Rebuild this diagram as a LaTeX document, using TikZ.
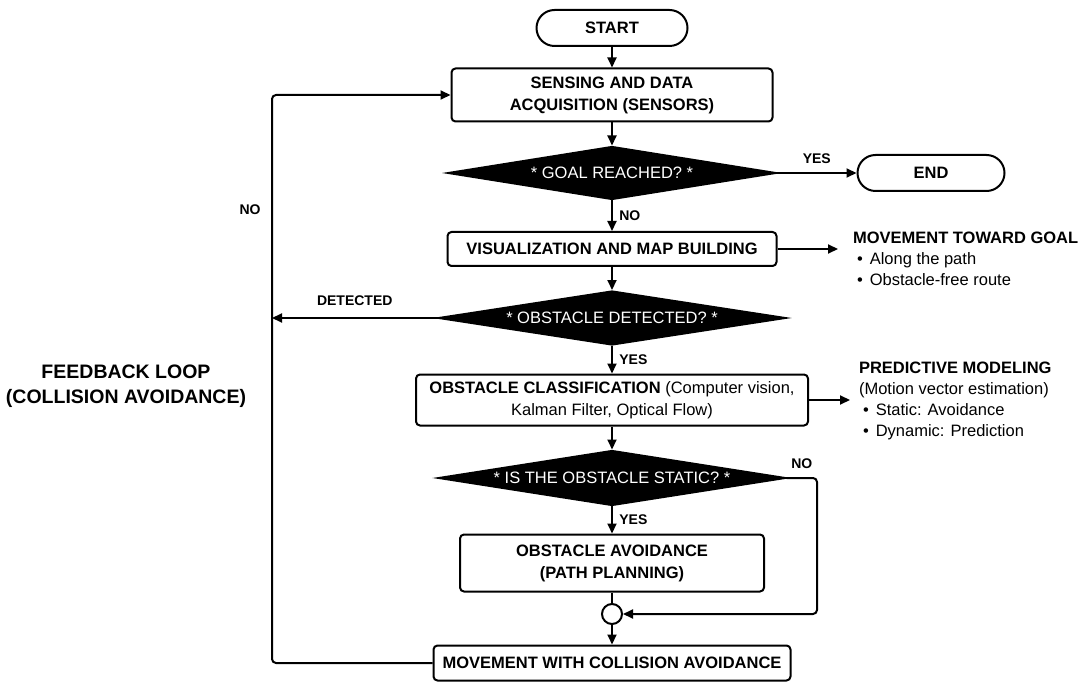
\documentclass[tikz,border=0pt]{standalone}
\usepackage{fontspec}
\setmainfont{Liberation Sans}
\usetikzlibrary{shapes.geometric}
\usetikzlibrary{positioning}
\usetikzlibrary{arrows.meta}

\begin{document}
\begin{tikzpicture}[
            x = 1pt, y = -1pt, % one unit per pixel of the layout
            > = {Triangle[length=10pt, width=9pt]}, % arrow head style
            line width = 2pt,
            font = \fontsize{16.5}{22}\selectfont
        ]

        \tikzstyle{terminal}=[
            draw,
            rounded corners = 18pt,
            minimum height = 36pt,
            font = \fontsize{16.5}{22}\selectfont\bfseries
        ]
        \tikzstyle{process}=[
            draw,
            rounded corners = 4pt,
            align = center,
            inner sep = 2pt,
            font = \fontsize{16.5}{22}\selectfont\bfseries
        ]
        \tikzstyle{decision}=[
            diamond,
            draw,
            fill = black,
            text = white,
            aspect = 6,
            inner sep = 0pt
        ]
        \tikzstyle{lbl}=[font = \fontsize{14}{16}\selectfont\bfseries]
        \tikzstyle{note}=[align = left, anchor = north west, inner ysep = 0pt,
            font = \fontsize{16.5}{21}\selectfont]

        \useasboundingbox (0,0) rectangle (1081,684);

        % main column
        \node[terminal, minimum width = 151pt] (start) at (612,28) {START};
        \node[process, minimum width = 321pt, minimum height = 53pt] (sense) at (612,95)
            {SENSING AND DATA\\ACQUISITION (SENSORS)};
        \node[decision, minimum width = 328pt, minimum height = 53pt] (goal) at (612,173)
            {* GOAL REACHED? *};
        \node[terminal, minimum width = 147pt] (finish) at (931,173) {END};
        \node[process, minimum width = 329pt, minimum height = 34pt] (vis) at (612,249)
            {VISUALIZATION AND MAP BUILDING};
        \node[decision, minimum width = 347pt, minimum height = 54pt] (obst) at (612,318)
            {* OBSTACLE DETECTED? *};
        \node[process, minimum width = 392pt, minimum height = 51pt] (class) at (612,400)
            {OBSTACLE CLASSIFICATION \mdseries(Computer vision,\\\mdseries Kalman Filter, Optical Flow)};
        \node[decision, minimum width = 347pt, minimum height = 55pt] (static) at (612,478)
            {* IS THE OBSTACLE STATIC? *};
        \node[process, minimum width = 304pt, minimum height = 57pt] (avoid) at (612,563)
            {OBSTACLE AVOIDANCE\\(PATH PLANNING)};
        \node[draw, circle, minimum size = 20pt, inner sep = 0pt] (join) at (612,614) {};
        \node[process, minimum width = 357pt, minimum height = 35pt] (move) at (612,663)
            {MOVEMENT WITH COLLISION AVOIDANCE};

        \coordinate (loopx) at (272,0);
        \coordinate (sidex) at (817,0);

        \path[->] (start) edge node {} (sense);
        \path[->] (sense) edge node {} (goal);
        \path[->] (goal) edge node[lbl, above = 5pt] {YES} (finish);
        \path[->] (goal) edge node[lbl, right = 3pt] {NO} (vis);
        \path[->] (vis) edge node {} (obst);
        \path[->] (obst) edge node[lbl, right = 3pt] {YES} (class);
        \path[->] (class) edge node {} (static);
        \path[->] (static) edge node[lbl, right = 3pt] {YES} (avoid);
        \path (avoid) edge node {} (join);
        \path[->] (join) edge node {} (move);

        \draw[->, rounded corners = 4pt] (static.east) -- node[lbl, above = 5pt] {NO} (static.east -| sidex)
            |- (join.east);
        \draw[->] (obst.west) -- node[lbl, above = 8pt] {DETECTED} (obst.west -| loopx);

        % feedback loop
        \draw[->, rounded corners = 4pt] (move.west) -| (loopx |- sense.west) -- (sense.west);
        \node[lbl] (nofb) at (250,210) {NO};
        \node[align = center, font = \fontsize{19.5}{25}\selectfont\bfseries] (fbtext) at (126,386)
            {FEEDBACK LOOP\\(COLLISION AVOIDANCE)};

        % side notes
        \node[note, inner xsep = 14pt] (goalnote) at (838,231)
            {\textbf{MOVEMENT TOWARD GOAL}\\
             \hspace{4pt}\textbullet\hspace{7pt}Along the path\\
             \hspace{4pt}\textbullet\hspace{7pt}Obstacle-free route};
        \node[note, inner xsep = 8pt] (prednote) at (850,361)
            {\textbf{PREDICTIVE MODELING}\\
             (Motion vector estimation)\\
             \hspace{4pt}\textbullet\hspace{7pt}Static: Avoidance\\
             \hspace{4pt}\textbullet\hspace{7pt}Dynamic: Prediction};

        \draw[->] (vis.east) -- (vis.east -| goalnote.west);
        \draw[->] (class.east) -- (class.east -| prednote.west);

\end{tikzpicture}
\end{document}
